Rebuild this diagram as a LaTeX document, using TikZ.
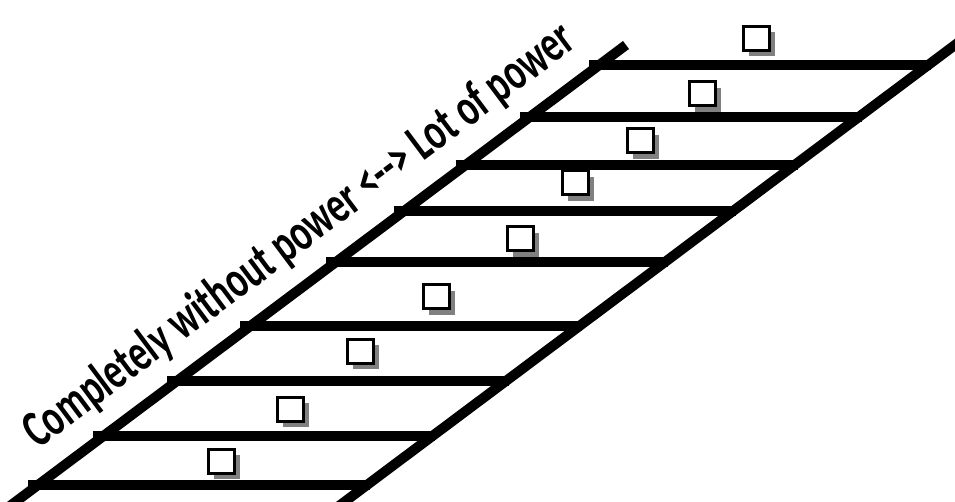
\documentclass[tikz,border=0pt]{standalone}
\usepackage{fontspec}
\newfontfamily\lblfont{Carlito}
\usetikzlibrary{shadows}
\begin{document}
\begin{tikzpicture}[x=1pt,y=-1pt,
  rail/.style={line width=10pt,draw=black},
  rung/.style={line width=10pt,draw=black},
  box/.style={draw=black,line width=3pt,fill=white,minimum width=26pt,minimum height=24pt,inner sep=0pt,
     drop shadow={shadow xshift=6pt,shadow yshift=-6pt,fill=black!50,opacity=1}},
  lbl/.style={font=\lblfont\bfseries\fontsize{36.5}{40}\selectfont,inner sep=0pt,anchor=base west,rotate=36.8}]
\useasboundingbox (0,0) rectangle (955,502);
% rails
\coordinate (lb) at (-2.1,515);
\coordinate (lt) at (626,45);
\coordinate (rb) at (326.9,515);
\coordinate (rt) at (981.7,25);
\draw[rail] (lb) -- (lt);
\draw[rail] (rb) -- (rt);
% rungs
\foreach \y [count=\i] in {65,117,165,211,262,326,381,436,485} {
  \coordinate (a\i) at ({38+(485-\y)*1.3364-10},\y);
  \coordinate (b\i) at ({38+(485-\y)*1.3364+332},\y);
  \draw[rung] (a\i) -- (b\i);
}
% boxes
\foreach \x/\y [count=\i] in {756/38.5,702/94,640/141,575/183,520/239,436/297,360/351,290/409,221/461} {
  \node[box] (s\i) at (\x,\y) {};
}
\node[lbl] (label) at (38,450) {\scalebox{1}[1.45]{Completely without power <-\kern0pt-> Lot of power}};
\end{tikzpicture}
\end{document}
